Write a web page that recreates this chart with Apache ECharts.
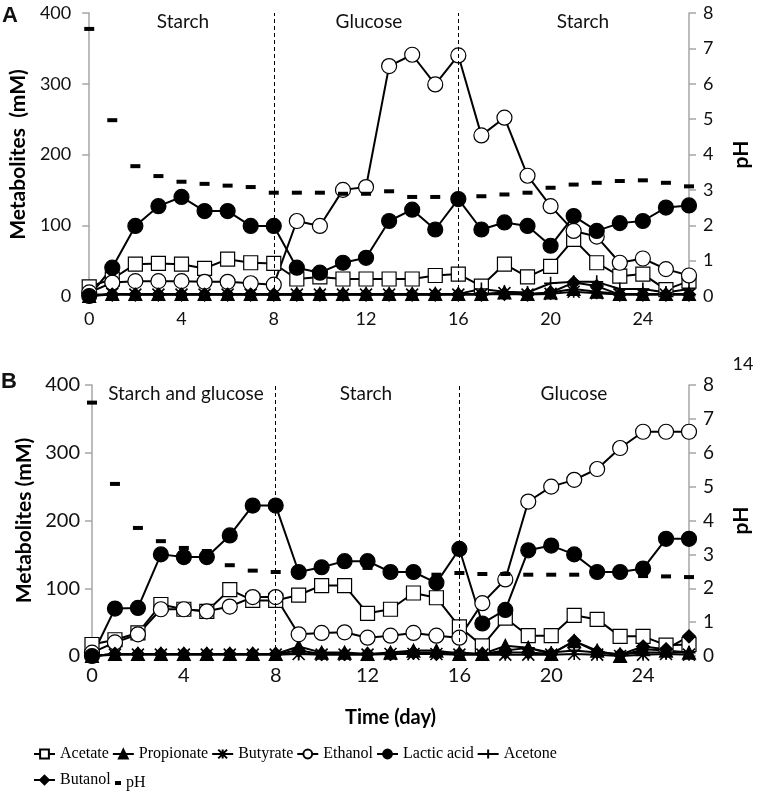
<!DOCTYPE html>
<html><head><meta charset="utf-8">
<script src="https://cdn.jsdelivr.net/npm/echarts@6/dist/echarts.min.js"></script>
<style>html,body{margin:0;padding:0;background:#fff}#c{width:760px;height:792px}</style>
</head><body><div id="c"></div>
<script>
// ---- data ----
const days = [0,1,2,3,4,5,6,7,8,9,10,11,12,13,14,15,16,17,18,19,20,21,22,23,24,25,26];
const seriesNames = ['Acetate','Propionate','Butyrate','Ethanol','Lactic acid','Acetone','Butanol','pH'];
const phasesA = ['Starch','Glucose','Starch'];
const phasesB = ['Starch and glucose','Starch','Glucose'];
const phaseBounds = [8,16];

// Panel A (mM; pH on right axis)
const A_acetate    = [13,24,45,46,45,39,52,47,46,24,27,24,24,24,24,29,31,14,45,27,42,80,47,28,31,9,21];
const A_propionate = [0,3,3,3,3,3,3,3,3,3,3,3,3,3,3,3,3,3,5,3,5,10,6,3,3,3,3];
const A_butyrate   = [0,3,2,2,2,2,2,2,2,2,2,2,2,2,2,2,2,2,4,2,3,6,4,2,2,2,2];
const A_ethanol    = [5,19,21,21,21,20,20,18,16,106,99,150,154,325,341,299,340,227,252,170,127,92,84,47,53,38,29];
const A_lactic     = [0,40,99,127,140,120,120,99,99,40,33,47,54,106,122,94,137,94,104,99,71,113,92,103,106,125,128];
const A_acetone    = [2,2,2,2,2,2,2,2,2,2,2,2,2,2,2,2,3,10,6,5,18,20,20,10,10,5,10];
const A_butanol    = [0,2,2,2,2,2,2,2,2,2,2,2,2,2,2,2,2,2,3,2,5,19,14,2,2,2,2];
const A_pH         = [7.55,4.97,3.67,3.39,3.23,3.17,3.12,3.08,2.92,2.92,2.92,2.89,2.89,2.96,2.8,2.8,2.82,2.82,2.87,2.92,3.06,3.15,3.2,3.25,3.27,3.2,3.1];

// Panel B
const B_acetate    = [17,24,34,76,69,66,98,82,82,90,104,104,63,69,93,86,43,15,56,30,30,60,54,29,29,16,17];
const B_propionate = [0,3,3,3,3,3,3,3,3,14,5,5,3,5,8,8,3,3,15,12,3,22,8,0,10,8,5];
const B_butyrate   = [0,2,2,2,2,2,2,2,2,3,2,2,2,3,3,3,2,2,2,2,2,3,2,0,2,3,2];
const B_ethanol    = [5,20,32,69,69,66,73,87,87,32,34,35,27,30,34,30,27,78,113,228,250,260,276,307,331,331,331];
const B_lactic     = [0,70,71,150,146,146,178,222,222,124,131,140,140,124,124,108,158,48,68,156,163,150,124,124,129,173,173];
const B_acetone    = [0,3,3,3,3,3,3,3,3,3,3,3,3,3,5,5,5,3,8,12,5,8,5,3,5,5,5];
const B_butanol    = [0,3,3,3,3,3,3,3,3,8,3,3,3,3,5,3,3,3,5,5,3,22,6,2,14,10,29];
const B_pH         = [7.48,5.08,3.78,3.39,3.19,3.1,2.68,2.52,2.48,2.5,2.6,2.68,2.6,2.5,2.45,2.4,2.45,2.42,2.42,2.4,2.4,2.4,2.4,2.38,2.36,2.35,2.33];

// ---- styles ----
const ASTER = 'path://M5,0L5,10M0,0L10,10M0,10L10,0';
const PLUS = 'path://M5,0L5,10M0,5L10,5';
const styles = {
  'Acetate':     {symbol:'rect', size:14, fill:'#fff'},
  'Propionate':  {symbol:'triangle', size:13, fill:'#000'},
  'Butyrate':    {symbol:ASTER, size:12, fill:'#000', bw:1.6},
  'Ethanol':     {symbol:'circle', size:15, fill:'#fff'},
  'Lactic acid': {symbol:'circle', size:15, fill:'#000'},
  'Acetone':     {symbol:PLUS, size:13, fill:'#000', bw:1.6},
  'Butanol':     {symbol:'diamond', size:13, fill:'#000'}
};

function mk(name, vals, idx) {
  const s = styles[name];
  return {
    name, type:'line', xAxisIndex:idx, yAxisIndex:idx*2,
    data: days.map((d,i)=>[d, vals[i]]),
    symbol: s.symbol, symbolSize: s.size, showAllSymbol:true,
    lineStyle:{color:'#000', width:2},
    itemStyle:{color:s.fill, borderColor:'#000', borderWidth: s.bw || 1.2},
    emphasis:{disabled:true}, animation:false
  };
}
function mkPH(vals, idx) {
  return {
    name:'pH', type:'line', xAxisIndex:idx, yAxisIndex:idx*2+1,
    data: days.map((d,i)=>[d, vals[i]]),
    symbol:'rect', symbolSize:[10,4], showAllSymbol:true,
    lineStyle:{width:0, opacity:0},
    itemStyle:{color:'#000'},
    emphasis:{disabled:true}, animation:false, z:4,
    markLine:{
      silent:true, symbol:'none', animation:false,
      lineStyle:{color:'#000', type:[4,3], width:1},
      label:{show:false},
      data: phaseBounds.map(b=>({xAxis:b}))
    }
  };
}

const F = 'Lato, "Open Sans", sans-serif';
function xAx(idx, fs, extra) {
  return Object.assign({
    type:'value', gridIndex:idx, min:0, max:26, interval:4,
    axisLine:{show:false}, axisTick:{show:false}, splitLine:{show:false},
    axisLabel:{color:'#111', fontSize:fs, fontFamily:F, margin:idx===0?14:10, showMaxLabel:false,
      formatter:v=> (v%4===0 ? String(v) : '')}
  }, extra||{});
}
function yLeft(idx, name, fs, margin) {
  return {
    type:'value', gridIndex:idx, min:0, max:400, interval:100, position:'left',
    axisLine:{show:true, lineStyle:{color:'#a6a6a6', width:1.5}},
    axisTick:{show:true, length:7, lineStyle:{color:'#a6a6a6', width:1.5}},
    splitLine:{show:false},
    axisLabel:{color:'#111', fontSize:fs, fontFamily:F, margin:margin},
    name:name, nameLocation:'middle', nameRotate:90, nameGap:54,
    nameTextStyle:{color:'#000', fontSize:21, fontWeight:'bold', fontFamily:F}
  };
}
function yRight(idx, fs) {
  return {
    type:'value', gridIndex:idx, min:0, max:8, interval:1, position:'right',
    axisLine:{show:true, lineStyle:{color:'#a6a6a6', width:1.5}},
    axisTick:{show:true, length:7, lineStyle:{color:'#a6a6a6', width:1.5}},
    splitLine:{show:false},
    axisLabel:{color:'#111', fontSize:fs, fontFamily:F, margin:14},
    name:'pH', nameLocation:'middle', nameRotate:90, nameGap:42,
    nameTextStyle:{color:'#000', fontSize:21, fontWeight:'bold', fontFamily:F}
  };
}

const series = [];
const aVals = [A_acetate,A_propionate,A_butyrate,A_ethanol,A_lactic,A_acetone,A_butanol];
const bVals = [B_acetate,B_propionate,B_butyrate,B_ethanol,B_lactic,B_acetone,B_butanol];
seriesNames.slice(0,7).forEach((n,i)=>series.push(mk(n, aVals[i], 0)));
series.push(mkPH(A_pH, 0));
seriesNames.slice(0,7).forEach((n,i)=>series.push(mk(n, bVals[i], 1)));
series.push(mkPH(B_pH, 1));

const legendText = {color:'#000', fontSize:16, fontFamily:'"Liberation Serif", "DejaVu Serif", serif'};
const phaseFont = '19px Lato, sans-serif';
function label(text, x, y, font) {
  return {type:'text', x, y, silent:true,
    style:{text, font: font||phaseFont, fill:'#111', textAlign:'center', textVerticalAlign:'middle', align:'center', verticalAlign:'middle'}};
}

const option = {
  animation:false,
  backgroundColor:'#fff',
  grid:[
    {left:88, right:65, top:13, height:283},
    {left:92, right:68, top:385, height:271}
  ],
  xAxis:[ xAx(0,18), xAx(1,20,{name:'Time (day)', nameLocation:'middle', nameGap:52,
    nameTextStyle:{color:'#000', fontSize:20, fontWeight:'bold', fontFamily:F}}) ],
  yAxis:[ yLeft(0,'Metabolites  (mM)',18,18), yRight(0,18), yLeft(1,'Metabolites (mM)',20,12), yRight(1,19) ],
  legend:[
    {left:28, top:741, itemWidth:21, itemHeight:11, itemGap:3, textStyle:legendText,
     data:seriesNames.slice(0,6), selectedMode:false},
    {left:28, top:767, itemWidth:21, itemHeight:11, itemGap:3, textStyle:legendText,
     data:['Butanol'], selectedMode:false},
    {left:110, top:770, itemWidth:6, itemHeight:4, itemGap:3, icon:'rect', textStyle:legendText,
     data:['pH'], selectedMode:false}
  ],
  graphic:[
    label('A', 10, 16, 'bold 22px "Liberation Sans", Arial, sans-serif'),
    label('B', 9, 382, 'bold 22px "Liberation Sans", Arial, sans-serif'),
    label(phasesA[0], 183, 22), label(phasesA[1], 369, 22), label(phasesA[2], 583, 22),
    label(phasesB[0], 186, 394), label(phasesB[1], 366, 394), label(phasesB[2], 574, 394),
    label('14', 743, 364, '18px Lato, sans-serif')
  ],
  series
};
const chart = echarts.init(document.getElementById('c'), null, {renderer:'canvas'});
chart.setOption(option);
</script></body></html>
